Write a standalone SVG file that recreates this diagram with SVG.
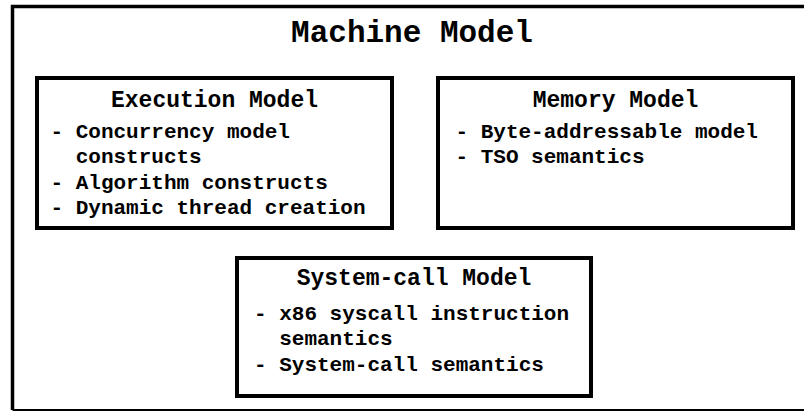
<svg xmlns="http://www.w3.org/2000/svg" width="804" height="411" viewBox="0 0 804 411">
  <style>
    .frame { fill: none; stroke: #000; stroke-width: 3.5; }
    .box { fill: #fff; stroke: #000; stroke-width: 4; }
    text { font-family: "Liberation Mono", "Courier New", monospace; font-weight: bold; fill: #000; }
    .title { font-size: 31px; text-anchor: middle; }
    .head { font-size: 23px; text-anchor: middle; }
    .item { font-size: 21px; }
  </style>
  <rect width="804" height="411" fill="#fff"/>

  <!-- outer frame, open on the right -->
  <g id="machine-model">
    <path class="frame" d="M 810 6.5 H 12.5 V 410"/>
    <line x1="12.5" y1="410" x2="804" y2="410" stroke="#000" stroke-width="2"/>
    <text class="title" x="412" y="42">Machine Model</text>
  </g>

  <!-- wrapped lines are indented by two character cells (2 x 12.6px) -->
  <g id="execution-model">
    <rect class="box" x="37" y="78" width="355" height="150"/>
    <text class="head" x="214.5" y="106.5">Execution Model</text>
    <text class="item" x="50.5" y="137.5">- Concurrency model</text>
    <text class="item" x="75.7" y="163">constructs</text>
    <text class="item" x="50.5" y="188.5">- Algorithm constructs</text>
    <text class="item" x="50.5" y="214">- Dynamic thread creation</text>
  </g>

  <g id="memory-model">
    <rect class="box" x="438" y="78" width="355" height="150"/>
    <text class="head" x="615.5" y="106.5">Memory Model</text>
    <text class="item" x="455.5" y="137.5">- Byte-addressable model</text>
    <text class="item" x="455.5" y="163">- TSO semantics</text>
  </g>

  <g id="system-call-model">
    <rect class="box" x="237" y="258" width="354" height="138"/>
    <text class="head" x="414" y="285">System-call Model</text>
    <text class="item" x="254" y="319.5">- x86 syscall instruction</text>
    <text class="item" x="279.2" y="345">semantics</text>
    <text class="item" x="254" y="370.5">- System-call semantics</text>
  </g>

  <g id="connectors"></g>
</svg>
